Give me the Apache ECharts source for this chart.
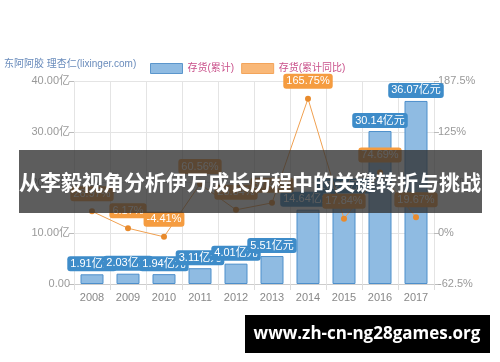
<!DOCTYPE html>
<html><head><meta charset="utf-8">
<script src="https://cdn.jsdelivr.net/npm/echarts@6/dist/echarts.min.js"></script>
<style>html,body{margin:0;padding:0;background:#fff}#c{width:500px;height:362px}</style>
</head><body><div id="c"></div>
<script>
var years = ['2008','2009','2010','2011','2012','2013','2014','2015','2016','2017'];
var inventory = [1.91, 2.03, 1.94, 3.11, 4.01, 5.51, 14.64, 17.25, 30.14, 36.07];
var inventoryYoY = [26.97, 6.17, -4.41, 60.56, 28.84, 37.41, 165.75, 17.84, 74.69, 19.67];
var seriesNames = ['存货(累计)', '存货(累计同比)'];
var sourceText = '东阿阿胶 理杏仁(lixinger.com)';
var bannerText = '从李毅视角分析伊万成长历程中的关键转折与挑战';
var watermarkText = 'www.zh-cn-ng28games.org';

var font = 'Arial, "Liberation Sans", "Noto Sans CJK SC", sans-serif';
var chart = echarts.init(document.getElementById('c'));
chart.setOption({
  animation: false,
  textStyle: {fontFamily: font},
  legend: {
    top: 58, left: 145, itemWidth: 32, itemHeight: 10, itemGap: 7,
    textStyle: {color: '#c9508a', fontSize: 10, fontFamily: font},
    data: [
      {name: seriesNames[0], icon: 'rect', itemStyle: {color: '#8fbbe2', borderColor: '#5b96cc', borderWidth: 1}},
      {name: seriesNames[1], icon: 'rect', itemStyle: {color: '#f9b878', borderColor: '#f3a45a', borderWidth: 1}}
    ]
  },
  grid: {left: 74, right: 66, top: 81, bottom: 78},
  xAxis: {
    type: 'category', data: years,
    axisLine: {lineStyle: {color: '#ccc'}},
    axisTick: {show: true, length: 6, lineStyle: {color: '#ddd'}},
    axisLabel: {color: '#888', fontSize: 11, margin: 8},
    splitLine: {show: true, lineStyle: {color: '#e4e4e4'}}
  },
  yAxis: [{
    type: 'value', min: 0, max: 40, interval: 10,
    axisLine: {show: false},
    axisTick: {show: true, length: 5, lineStyle: {color: '#bbb'}},
    axisLabel: {color: '#999', fontSize: 11, margin: 4,
      formatter: function (v) { return v === 0 ? '0.00' : v.toFixed(2) + '亿'; }},
    splitLine: {lineStyle: {color: '#e4e4e4'}}
  }, {
    type: 'value', min: -62.5, max: 187.5, interval: 62.5,
    axisLine: {show: false},
    axisTick: {show: true, length: 5, lineStyle: {color: '#bbb'}},
    axisLabel: {color: '#999', fontSize: 11, margin: 4, formatter: '{value}%'},
    splitLine: {show: false}
  }],
  series: [{
    name: seriesNames[0], type: 'bar', data: inventory, barWidth: 23,
    itemStyle: {color: '#8fbbe2', borderColor: '#4d8fcb', borderWidth: 1},
    label: {show: true, position: 'top', distance: 3, formatter: '{c}亿元',
      color: '#fff', fontSize: 11, backgroundColor: '#3e8cc9',
      borderRadius: 3, padding: [2, 3]}
  }, {
    name: seriesNames[1], type: 'line', yAxisIndex: 1, data: inventoryYoY,
    symbol: 'circle', symbolSize: 6,
    lineStyle: {color: '#f0a050', width: 1},
    itemStyle: {color: '#e88a2c'},
    label: {show: true, position: 'top', distance: 7, formatter: '{c}%',
      color: '#fff', fontSize: 11, backgroundColor: '#f59c40',
      borderRadius: 3, padding: [2, 3]}
  }],
  graphic: [
    {type: 'text', left: 4, top: 59, z: 50,
      style: {text: sourceText, fill: '#6a8cbc', font: '10px ' + font}},
    {type: 'rect', shape: {x: 19, y: 150, width: 463, height: 63}, z: 100,
      style: {fill: 'rgba(48,48,48,0.78)'}},
    {type: 'text', x: 250, y: 182, z: 101,
      style: {text: bannerText, fill: '#fff', align: 'center', verticalAlign: 'middle',
        font: 'bold 21px "Noto Sans CJK SC", sans-serif'}},
    {type: 'rect', shape: {x: 245, y: 315, width: 245, height: 38}, z: 100,
      style: {fill: '#000'}},
    {type: 'text', x: 367, y: 334, z: 101,
      style: {text: watermarkText, fill: '#fff', align: 'center', verticalAlign: 'middle',
        font: 'bold 17px "Open Sans", "DejaVu Sans", sans-serif'}}
  ]
});
</script></body></html>
